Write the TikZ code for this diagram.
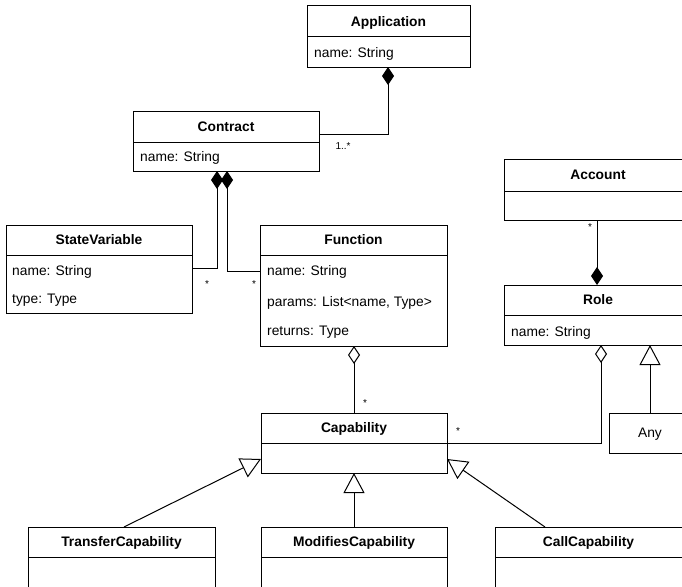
\documentclass[tikz,border=0pt]{standalone}
\usepackage{fontspec}
\setmainfont{Liberation Sans}
\usetikzlibrary{arrows.meta}
\newcommand{\umlcls}[7]{%
  \node[clsbox, capc, minimum width={#3-#2}, minimum height={#5-#4}, anchor=north west] (#1) at (#2,#4) {\textbf{#7}};
  \node[clsbox, minimum width={#3-#2}, minimum height={#6-#5}, anchor=north west] (#1b) at (#2,#5) {};
}
\begin{document}
\begin{tikzpicture}[x=1pt, y=-1pt,
  font=\fontsize{13.8}{16}\selectfont,
  capc/.style={text height=9.9pt, text depth=0pt},
  clsbox/.style={draw=black, line width=1pt, fill=white, inner sep=0pt, outer sep=0pt},
  attr/.style={capc, anchor=west, inner sep=0pt},
  mult/.style={inner sep=0pt, font=\fontsize{10}{12}\selectfont},
  conn/.style={draw=black, line width=1pt},
  comp/.style={conn, -{Diamond[length=18pt, width=12pt, fill=black]}},
  aggr/.style={conn, -{Diamond[open, length=18pt, width=12pt, fill=white]}},
  gen/.style={conn, -{Triangle[open, length=20pt, width=21pt, fill=white]}}]
\clip (0,0) rectangle (682,586);
\fill[white] (0,0) rectangle (682,586);

% classes
\umlcls{app}{307}{470}{6}{37}{67}{Application}
\node[attr] (appa1) at (314,53) {name: String};

\umlcls{con}{133}{319}{111}{142}{171}{Contract}
\node[attr] (cona1) at (140,157) {name: String};

\umlcls{sv}{6}{192}{225}{255}{313}{StateVariable}
\node[attr] (sva1) at (12,271) {name: String};
\node[attr] (sva2) at (12,298.5) {type: Type};

\umlcls{fn}{260}{447}{225}{255}{346}{Function}
\node[attr] (fna1) at (267,271) {name: String};
\node[attr] (fna2) at (267,301.5) {params: List<name, Type>};
\node[attr] (fna3) at (267,331) {returns: Type};

\umlcls{acc}{504}{692}{159}{191}{220}{Account}

\umlcls{role}{504}{692}{285}{315}{345}{Role}
\node[attr] (rolea1) at (511,331.5) {name: String};

\node[clsbox, capc, minimum width=82, minimum height=40, anchor=north west] (any) at (609,413) {Any};

\umlcls{cap}{261}{447}{413}{443}{473}{Capability}

\umlcls{tc}{28}{215}{527}{557}{600}{TransferCapability}
\umlcls{mc}{261}{447}{527}{557}{600}{ModifiesCapability}
\umlcls{cc}{495}{682}{527}{557}{600}{CallCapability}

% bend points
\coordinate (k1) at (388,134);
\coordinate (k2) at (217,268);
\coordinate (k3) at (227,271);
\coordinate (k4) at (597,220);
\coordinate (k5) at (601,443);
\coordinate (k6) at (650,413);
\coordinate (k7) at (354,413);
\coordinate (k8) at (124,527);
\coordinate (k9) at (261,459);
\coordinate (k10) at (545,527);
\coordinate (k11) at (447,459);

% connectors
\draw[comp] (con.east |- k1) -- (k1) -- (appb.south -| k1);
\draw[comp] (sv.east |- k2) -- (k2) -- (conb.south -| k2);
\draw[comp] (fn.west |- k3) -- (k3) -- (conb.south -| k3);
\draw[comp] (k4) -- (role.north -| k4);
\draw[aggr] (capb.north east |- k5) -- (k5) -- (roleb.south -| k5);
\draw[gen] (k6) -- (roleb.south -| k6);
\draw[aggr] (k7) -- (fnb.south -| k7);
\draw[gen] (k8) -- (k9);
\draw[gen] (mc.north -| k7) -- (capb.south -| k7);
\draw[gen] (k10) -- (k11);

% multiplicities
\node[mult] (m1) at (343,146) {1..*};
\node[mult] (m2) at (207,284) {*};
\node[mult] (m3) at (254,284) {*};
\node[mult] (m4) at (590,227) {*};
\node[mult] (m5) at (365,403) {*};
\node[mult] (m6) at (458,431) {*};
\end{tikzpicture}
\end{document}
